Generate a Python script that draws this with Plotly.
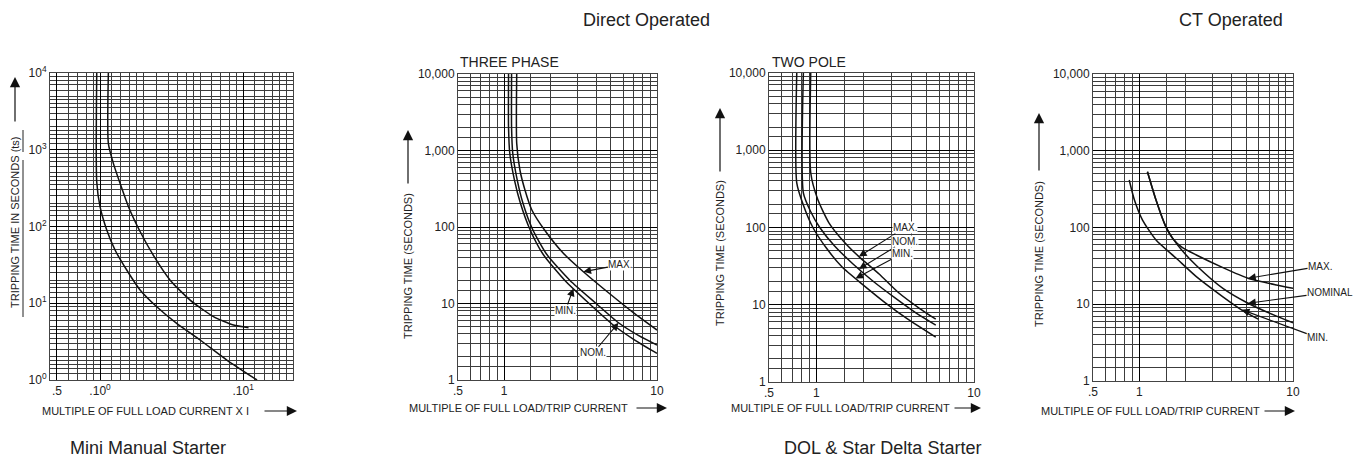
import numpy as np
import plotly.graph_objects as go

W, H = 1370, 467
OFF = 8  # page body margin: the figure is drawn 8px right and down of the window corner
FONT = "Liberation Sans, Arial, sans-serif"

# ---------------- data ----------------
# Mini Manual Starter
mm_upper_x = [1.143, 1.143, 1.239, 1.38, 1.58, 1.904, 2.36, 3.09, 4.26, 6.2, 8.56, 10.9]
mm_upper_y = [10000, 1213, 665, 365, 181, 86, 42, 20, 11, 6.7, 5.2, 4.8]
mm_lower_x = [0.948, 0.948, 1.0, 1.114, 1.273, 1.536, 1.904, 2.49, 3.43, 5.0, 7.69, 12.5]
mm_lower_y = [10000, 383, 181, 90, 49.4, 27.1, 14.9, 9.0, 5.47, 3.32, 1.82, 1.0]

# Direct operated - three phase
tp_min_x = [1.07, 1.07, 1.09, 1.17, 1.28, 1.47, 1.8, 2.5, 3.6, 5.2, 7.2, 10]
tp_min_y = [10000, 2000, 920, 410, 204, 95, 44, 20, 10, 5.2, 3.3, 2.23]
tp_nom_x = [1.12, 1.12, 1.14, 1.22, 1.33, 1.53, 1.9, 2.7, 4.0, 5.6, 7.6, 10]
tp_nom_y = [10000, 2000, 920, 410, 204, 95, 44, 20, 10, 5.6, 3.8, 2.87]
tp_max_x = [1.21, 1.21, 1.27, 1.37, 1.52, 1.85, 2.45, 3.3, 5.0, 7.0, 10]
tp_max_y = [10000, 1240, 556, 305, 167, 90, 45, 26, 13, 7.6, 4.5]

# Direct operated - two pole
dp_max_x = [0.92, 0.92, 1.02, 1.2, 1.5, 1.86, 2.5, 3.3, 4.5, 5.72]
dp_max_y = [10000, 511, 230, 115, 65, 42, 25, 14.5, 9, 6.5]
dp_nom_x = [0.826, 0.826, 0.92, 1.05, 1.3, 1.7, 2.3, 3.2, 4.3, 5.72]
dp_nom_y = [10000, 281, 160, 100, 58, 34, 20, 12, 7.8, 5.46]
dp_min_x = [0.75, 0.75, 0.83, 0.95, 1.15, 1.45, 1.95, 2.75, 3.8, 5.72]
dp_min_y = [10000, 379, 190, 100, 55, 31, 18.5, 10.5, 6.5, 3.8]

# CT operated
ct_max_x = [1.13, 1.285, 1.49, 1.65, 1.9, 2.35, 3.5, 5.1, 7.8, 10]
ct_max_y = [533, 228, 102, 72, 55, 43.8, 30, 21.8, 17.8, 16.1]
ct_nom_x = [1.13, 1.285, 1.49, 1.65, 1.9, 2.35, 3.5, 5.1, 7.08, 10]
ct_nom_y = [533, 228, 102, 72, 50, 32, 16.1, 10.3, 7.6, 5.75]
ct_min_x = [0.86, 0.93, 1.05, 1.285, 1.74, 2.35, 3.5, 4.73, 5.94]
ct_min_y = [416, 228, 125, 68.7, 39.7, 22.9, 12.5, 8.2, 6.4]

# tick labels
y_ticks = [1, 10, 100, 1000, 10000]
y_text = ["1", "10", "100", "1,000", "10,000"]
y_text_mm = ["10<sup>0</sup>", "10<sup>1</sup>", "10<sup>2</sup>", "10<sup>3</sup>", "10<sup>4</sup>"]
x_ticks = [0.5, 1, 10]
x_text = [".5", "1", "10"]
x_text_mm = [".5", ".10<sup>0</sup>", ".10<sup>1</sup>"]

# curve labels: (text, arrow-tip x, arrow-tip y, label offset dx px, dy px)
tp_labels = [("MAX.", 3.3, 26.0, 37, -7), ("MIN.", 2.84, 15.7, -8, 22), ("NOM.", 5.6, 5.6, -25, 30)]
dp_labels = [("MAX.", 1.86, 42.0, 46, -29), ("NOM.", 1.86, 29.0, 46, -28), ("MIN.", 1.77, 21.9, 47, -25)]
ct_labels = [("MAX.", 5.1, 21.8, 72, -12), ("NOMINAL", 5.1, 10.3, 82, -11), ("MIN.", 4.64, 8.5, 76, 28)]

# ---------------- figure ----------------
fig = go.Figure()


def add_curve(x, y, ax):
    fig.add_trace(go.Scatter(x=x, y=y, xaxis="x" + ax, yaxis="y" + ax, mode="lines",
                             line=dict(color="#111", width=1.5, shape="spline", smoothing=0.6),
                             hoverinfo="skip", showlegend=False))


add_curve(mm_upper_x, mm_upper_y, "")
add_curve(mm_lower_x, mm_lower_y, "")
add_curve(tp_min_x, tp_min_y, "2")
add_curve(tp_nom_x, tp_nom_y, "2")
add_curve(tp_max_x, tp_max_y, "2")
add_curve(dp_min_x, dp_min_y, "3")
add_curve(dp_nom_x, dp_nom_y, "3")
add_curve(dp_max_x, dp_max_y, "3")
add_curve(ct_min_x, ct_min_y, "4")
add_curve(ct_nom_x, ct_nom_y, "4")
add_curve(ct_max_x, ct_max_y, "4")


def grid_vals(lo, hi, mults):
    vals = []
    for k in range(-1, 5):
        for m in mults:
            v = m * 10 ** k
            if lo * 0.999 <= v <= hi * 1.001:
                vals.append(v)
    return vals


std_mults = [1, 1.5, 2, 3, 4, 5, 6, 7, 8, 9]
dense_mults = [1, 1.2, 1.4, 1.6, 1.8, 2, 2.5, 3, 3.5, 4, 4.5, 5, 6, 7, 8, 9]


def axis(dom, rng, tv, tt, minor_vals, anchor):
    return dict(type="log", domain=dom, range=rng, anchor=anchor, automargin=False,
                tickmode="array", tickvals=tv, ticktext=tt,
                showgrid=True, gridcolor="#000", gridwidth=1.3,
                minor=dict(tickmode="array", tickvals=minor_vals, showgrid=True,
                           gridcolor="#3c3c3c", gridwidth=1, ticks=""),
                showline=True, mirror=True, linecolor="#444", linewidth=1,
                ticks="", zeroline=False, fixedrange=True,
                tickfont=dict(size=12, color="#222", family=FONT))


def fx(x):
    return (x - OFF) / W


def fy(y):
    return 1 - (y - OFF) / H


# plot boxes in window pixels: (left, right, top, bottom)
boxes = {
    "": (50, 293, 73, 380),
    "2": (458, 657, 74, 380),
    "3": (769, 974, 73, 382),
    "4": (1093, 1293, 74, 381),
}
xr = {
    "": [np.log10(0.447), np.log10(22.3)],
    "2": [np.log10(0.5), 1],
    "3": [np.log10(0.5), 1],
    "4": [np.log10(0.5), 1],
}

layout = {}
for k, (l, r, t, b) in boxes.items():
    xd = [fx(l), fx(r)]
    yd = [fy(b), fy(t)]
    lo, hi = 10 ** xr[k][0], 10 ** xr[k][1]
    if k == "":
        xm = grid_vals(lo, hi, dense_mults)
        ym = grid_vals(1, 10000, dense_mults)
        xt, yt = x_text_mm, y_text_mm
    else:
        xm = grid_vals(lo, hi, std_mults)
        ym = grid_vals(1, 10000, std_mults)
        xt, yt = x_text, y_text
    layout["xaxis" + k] = axis(xd, xr[k], x_ticks, xt, xm, "y" + k)
    layout["yaxis" + k] = axis(yd, [0, 4], y_ticks, yt, ym, "x" + k)

fig.update_layout(**layout)

ann = []


def ptext(text, x, y, size, angle=0, xanchor="center"):
    ann.append(dict(text=text, x=fx(x), y=fy(y), xref="paper", yref="paper",
                    showarrow=False, textangle=angle, xanchor=xanchor, yanchor="middle",
                    font=dict(size=size, color="#222", family=FONT)))


def parrow(xh, yh, dx, dy):
    ann.append(dict(text="", x=fx(xh), y=fy(yh), xref="paper", yref="paper",
                    showarrow=True, ax=dx, ay=dy, arrowhead=2, arrowsize=1.7,
                    arrowwidth=1.2, arrowcolor="#111"))


# section titles
ptext("Direct Operated", 646, 20, 18)
ptext("CT Operated", 1231, 20, 18)
ptext("Mini Manual Starter", 148, 448, 18)
ptext("DOL &amp; Star Delta Starter", 882, 448, 18)

# subplot titles
ptext("THREE PHASE", 458, 62, 14, xanchor="left")
ptext("TWO POLE", 770, 62, 14, xanchor="left")

# axis titles
AT = 11
ptext("TRIPPING TIME IN SECONDS (ts)", 15, 222, AT, angle=-90)
parrow(15, 77, 0, 46)
ptext("TRIPPING TIME (SECONDS)", 408, 266, AT, angle=-90)
parrow(408, 130, 0, 55)
ptext("TRIPPING TIME (SECONDS)", 720, 253, AT, angle=-90)
parrow(720, 108, 0, 65)
ptext("TRIPPING TIME (SECONDS)", 1039, 254, AT, angle=-90)
parrow(1039, 113, 0, 59)

ptext("MULTIPLE OF FULL LOAD CURRENT X I", 145, 411, AT)
parrow(297, 411, -34, 0)
ptext("MULTIPLE OF FULL LOAD/TRIP CURRENT", 518, 408, AT)
parrow(667, 408, -32, 0)
ptext("MULTIPLE OF FULL LOAD/TRIP CURRENT", 840, 408, AT)
parrow(981, 408, -28, 0)
ptext("MULTIPLE OF FULL LOAD/TRIP CURRENT", 1150, 411, AT)
parrow(1295, 411, -32, 0)

# curve labels
for labels, k in ((tp_labels, "2"), (dp_labels, "3"), (ct_labels, "4")):
    for text, lx, ly, dx, dy in labels:
        ann.append(dict(text=text, x=np.log10(lx), y=np.log10(ly), xref="x" + k, yref="y" + k,
                        showarrow=True, ax=dx, ay=dy, arrowhead=2, arrowsize=1.4,
                        arrowwidth=1.1, arrowcolor="#111", bgcolor="white", borderpad=0,
                        font=dict(size=10, color="#222", family=FONT)))

# rule beside the mini-starter axis title
shapes = [
    dict(type="line", xref="paper", yref="paper", x0=fx(23), x1=fx(23),
         y0=fy(130), y1=fy(152), line=dict(color="#222", width=1)),
    dict(type="line", xref="paper", yref="paper", x0=fx(23), x1=fx(23),
         y0=fy(160), y1=fy(317), line=dict(color="#222", width=1)),
]

fig.update_layout(annotations=ann, shapes=shapes, width=W, height=H, autosize=False,
                  margin=dict(l=0, r=0, t=0, b=0, pad=0), paper_bgcolor="white",
                  plot_bgcolor="white", showlegend=False)

fig.write_html("out.html")
